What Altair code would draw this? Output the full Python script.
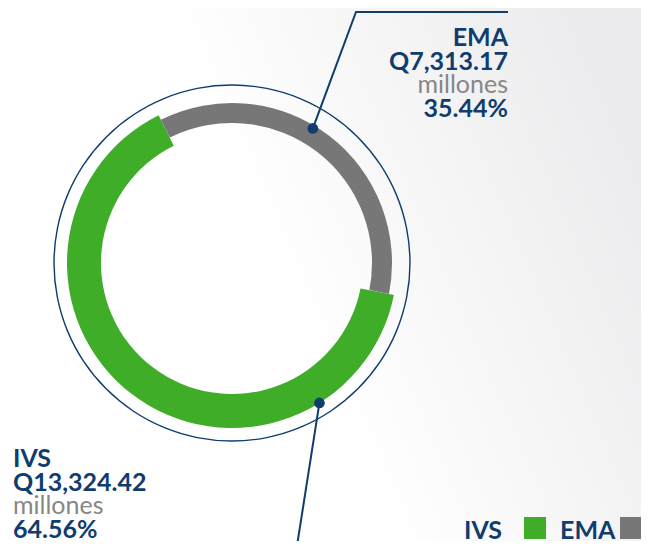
import math
import altair as alt
import pandas as pd

# ---- data ----
categories = ["EMA", "IVS"]
values = [7313.17, 13324.42]
unit_label = "millones"
currency = "Q"

# ---- style / layout ----
NAVY = "#0f3d6e"
GREEN = "#40ad29"
GRAY = "#777777"
TEXTGRAY = "#878787"
FONT = "Lato"
W, H = 633, 533
CX, CY = 224, 255
START_DEG = 333.6

total = sum(values)
df = pd.DataFrame({"cat": categories, "value": values, "idx": list(range(len(categories)))})

theta_scale = alt.Scale(range=[math.radians(START_DEG), math.radians(START_DEG) + 2 * math.pi])

# background gradient
bg = alt.Chart(pd.DataFrame({"a": [0]})).mark_rect(
    color=alt.LinearGradient(
        gradient="linear",
        stops=[alt.GradientStop(color="#ffffff", offset=0.0),
               alt.GradientStop(color="#ececee", offset=1)],
        x1=0.45, x2=1, y1=0.55, y2=0.35,
    )
).encode(x=alt.value(0), x2=alt.value(W), y=alt.value(0), y2=alt.value(H))

# outer thin ring
ring = alt.Chart(pd.DataFrame({"a": [0]})).mark_arc(
    innerRadius=177.3, outerRadius=178.7, color=NAVY
).encode(x=alt.value(CX), y=alt.value(CY), theta=alt.value(0), theta2=alt.value(2 * math.pi))

base = alt.Chart(df).encode(
    theta=alt.Theta("value:Q", stack=True, scale=theta_scale),
    order=alt.Order("idx:Q"),
    x=alt.value(CX),
    y=alt.value(CY),
)
green_arc = base.mark_arc(innerRadius=131, outerRadius=165, color=GREEN).encode(
    opacity=alt.condition(alt.datum.cat == "IVS", alt.value(1), alt.value(0))
)
gray_arc = base.mark_arc(innerRadius=140, outerRadius=160, color=GRAY).encode(
    opacity=alt.condition(alt.datum.cat == "EMA", alt.value(1), alt.value(0))
)

# leader lines (annotation geometry)
def polar(deg, r):
    a = math.radians(deg)
    return CX + r * math.sin(a), CY - r * math.cos(a)

ema_dot = polar(31, 157)
ivs_dot = polar(148, 165)
lead = pd.DataFrame({
    "name": ["EMA", "EMA", "EMA", "IVS", "IVS"],
    "seq": [0, 1, 2, 0, 1],
    "px": [ema_dot[0], 348, 500, ivs_dot[0], ivs_dot[0] - 0.157 * (570 - ivs_dot[1])],
    "py": [ema_dot[1], 4, 4, ivs_dot[1], 570],
})
lines = alt.Chart(lead).mark_line(color=NAVY, strokeWidth=2).encode(
    x=alt.X("px:Q", scale=None, axis=None),
    y=alt.Y("py:Q", scale=None, axis=None),
    detail="name:N",
    order="seq:Q",
)
dots_df = pd.DataFrame({"px": [ema_dot[0], ivs_dot[0]], "py": [ema_dot[1], ivs_dot[1]]})
dots = alt.Chart(dots_df).mark_circle(size=115, color=NAVY, opacity=1).encode(
    x=alt.X("px:Q", scale=None, axis=None),
    y=alt.Y("py:Q", scale=None, axis=None),
)

# labels
anchors = {"EMA": (500, 38, "right"), "IVS": (5, 459, "left")}
STEP = 23.7
rows = []
for c, v in zip(categories, values):
    ax, ay, al = anchors[c]
    lines_txt = [(c, "b"), (f"{currency}{v:,.2f}", "b"), (unit_label, "g"), (f"{v / total * 100:.2f}%", "b")]
    for i, (t, s) in enumerate(lines_txt):
        rows.append({"t": t, "s": s, "px": ax, "py": ay + i * STEP, "al": al})
lab = pd.DataFrame(rows)

text_layers = []
for al in ["left", "right"]:
    for s in ["b", "g"]:
        sub = lab[(lab.al == al) & (lab.s == s)]
        text_layers.append(
            alt.Chart(sub).mark_text(
                align=al, baseline="alphabetic", font=FONT, fontSize=25,
                fontWeight=700 if s == "b" else 400,
                color=NAVY if s == "b" else TEXTGRAY,
            ).encode(
                x=alt.X("px:Q", scale=None, axis=None),
                y=alt.Y("py:Q", scale=None, axis=None),
                text="t:N",
            )
        )

# legend (labels left of swatches)
leg_cats = ["IVS", "EMA"]
leg_cols = [GREEN, GRAY]
leg = pd.DataFrame({
    "cat": leg_cats,
    "tx": [456, 552],
    "sx": [527, 623],
    "col": leg_cols,
})
leg_text = alt.Chart(leg).mark_text(
    align="left", baseline="alphabetic", font=FONT, fontSize=25, fontWeight=700, color=NAVY
).encode(x=alt.X("tx:Q", scale=None, axis=None), y=alt.value(531), text="cat:N")
leg_sq = alt.Chart(leg).mark_square(size=484, opacity=1).encode(
    x=alt.X("sx:Q", scale=None, axis=None), y=alt.value(520),
    color=alt.Color("col:N", scale=None, legend=None),
)

chart = alt.layer(bg, ring, green_arc, gray_arc, lines, dots, *text_layers, leg_text, leg_sq).properties(
    width=W, height=H, padding=0, autosize=alt.AutoSizeParams(type="none")
).configure_view(stroke=None)

chart.save("out.html", embed_options={"renderer": "svg", "actions": False})
